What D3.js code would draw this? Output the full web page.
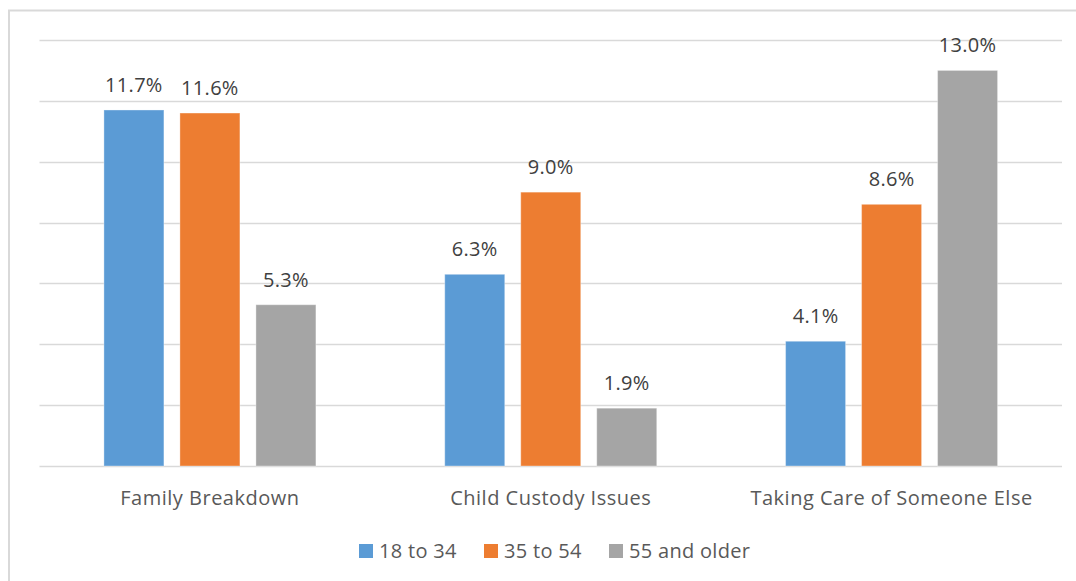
<!DOCTYPE html>
<html>
<head>
<meta charset="utf-8">
<script src="https://cdn.jsdelivr.net/npm/d3@7"></script>
<style>
  html, body { margin: 0; padding: 0; background: #fff; }
  svg { display: block; }
</style>
</head>
<body>
<svg id="chart" width="1076" height="581"></svg>
<script>
const categories = ["Family Breakdown", "Child Custody Issues", "Taking Care of Someone Else"];
const seriesNames = ["18 to 34", "35 to 54", "55 and older"];
const series18to34 = [11.7, 6.3, 4.1];
const series35to54 = [11.6, 9.0, 8.6];
const series55plus = [5.3, 1.9, 13.0];
const colors = ["#5B9BD5", "#ED7D31", "#A5A5A5"];
const yTicks = [0, 2, 4, 6, 8, 10, 12, 14];

const seriesValues = [series18to34, series35to54, series55plus];

(function () {
const svg = d3.select("#chart");
const font = "'Open Sans', 'Liberation Sans', sans-serif";

// outer frame
svg.append("rect").attr("x", 9).attr("y", 10.5).attr("width", 1080).attr("height", 600)
  .attr("fill", "#fff").attr("stroke", "#d9d9d9").attr("stroke-width", 2);

const pLeft = 39.5, pRight = 1062, pTop = 40, pBottom = 466;

const y = d3.scaleLinear().domain([0, 14]).range([pBottom, pTop]);
const x0 = d3.scaleBand().domain(categories).range([pLeft, pRight]).paddingInner(0).paddingOuter(0);
const bw = x0.bandwidth();
const groupW = 212;
const x1 = d3.scaleBand().domain(seriesNames)
  .range([(bw - groupW) / 2, (bw + groupW) / 2]).paddingInner(16 / 76).paddingOuter(0);

// gridlines
svg.append("g").selectAll("line").data(yTicks).join("line")
  .attr("x1", pLeft).attr("x2", pRight)
  .attr("y1", d => Math.round(y(d)) + 0.5).attr("y2", d => Math.round(y(d)) + 0.5)
  .attr("stroke", "#d9d9d9").attr("stroke-width", 1.6);

// bars
const groups = svg.append("g").selectAll("g").data(categories).join("g")
  .attr("transform", d => `translate(${x0(d)},0)`);

groups.each(function(cat, ci) {
  const g = d3.select(this);
  const data = seriesNames.map((s, si) => ({ s, si, v: seriesValues[si][ci] }));
  g.selectAll("rect").data(data).join("rect")
    .attr("x", d => x1(d.s))
    .attr("y", d => y(d.v))
    .attr("width", x1.bandwidth())
    .attr("height", d => y(0) - y(d.v))
    .attr("fill", d => colors[d.si])
    .attr("stroke", "#ffffff").attr("stroke-opacity", 0.35).attr("stroke-width", 1);
  g.selectAll("text").data(data).join("text")
    .attr("x", d => x1(d.s) + x1.bandwidth() / 2)
    .attr("y", d => y(d.v) - 18)
    .attr("text-anchor", "middle")
    .attr("font-family", font).attr("font-size", 20)
    .attr("letter-spacing", 0.3)
    .attr("fill", "#404040")
    .text(d => d.v.toFixed(1) + "%");
});

// category axis labels
svg.append("g").selectAll("text").data(categories).join("text")
  .attr("x", d => x0(d) + bw / 2)
  .attr("y", 505)
  .attr("text-anchor", "middle")
  .attr("font-family", font).attr("font-size", 20)
  .attr("letter-spacing", 0.5)
  .attr("fill", "#595959")
  .text(d => d);

// legend
const legendX = [359, 484, 609];
const legend = svg.append("g").selectAll("g").data(seriesNames).join("g")
  .attr("transform", (d, i) => `translate(${legendX[i]},544)`);
legend.append("rect").attr("width", 14).attr("height", 14).attr("fill", (d, i) => colors[i]);
legend.append("text").attr("x", 20).attr("y", 14)
  .attr("font-family", font).attr("font-size", 20)
  .attr("letter-spacing", 0.3)
  .attr("fill", "#595959").text(d => d);
})();
</script>
</body>
</html>
